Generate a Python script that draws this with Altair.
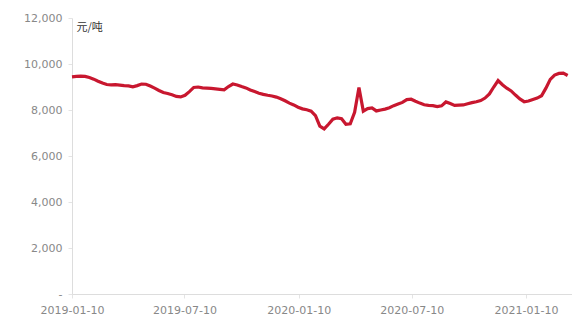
import altair as alt
import pandas as pd

start_date = "2019-01-10"
prices = [
    9440, 9460, 9470, 9460, 9410, 9340, 9250, 9170, 9110, 9090,
    9100, 9080, 9060, 9050, 9010, 9060, 9130, 9120, 9040, 8950,
    8850, 8760, 8720, 8660, 8590, 8570, 8640, 8800, 8980, 9000,
    8960, 8950, 8940, 8920, 8900, 8880, 9020, 9130, 9090, 9020,
    8960, 8870, 8800, 8730, 8680, 8640, 8610, 8560, 8490, 8400,
    8300, 8220, 8120, 8050, 8010, 7950, 7750, 7300, 7180, 7380,
    7600, 7660, 7620, 7380, 7400, 7900, 8980, 7950, 8060, 8090,
    7960, 8000, 8040, 8100, 8190, 8260, 8330, 8450, 8470, 8380,
    8300, 8230, 8200, 8190, 8150, 8180, 8350, 8280, 8200, 8210,
    8220, 8270, 8320, 8360, 8410, 8520, 8700, 9000, 9280, 9100,
    8950, 8830, 8650, 8480, 8360, 8390, 8460, 8520, 8620, 8950,
    9330, 9520, 9590, 9600, 9500,
]
x_ticks = ["2019-01-10", "2019-07-10", "2020-01-10", "2020-07-10", "2021-01-10"]
y_ticks = [0, 2000, 4000, 6000, 8000, 10000, 12000]

dates = pd.date_range(start_date, periods=len(prices), freq="7D")
df = pd.DataFrame({"date": dates, "price": prices})

x_vals = [alt.DateTime(year=int(d[:4]), month=int(d[5:7]), date=int(d[8:])) for d in x_ticks]

chart = alt.Chart(df).mark_line(color="#c8172f", strokeWidth=3.2, interpolate="linear").encode(
    x=alt.X("date:T",
            scale=alt.Scale(domain=[alt.DateTime(year=2019, month=1, date=10),
                                    alt.DateTime(year=2021, month=3, date=25)], nice=False),
            axis=alt.Axis(values=x_vals, format="%Y-%m-%d", title=None, grid=False,
                          domainColor="#dddddd", tickColor="#e4e4e4", tickSize=4,
                          labelColor="#888888", labelFont="DejaVu Sans", labelFontSize=11,
                          labelPadding=6, labelFlush=False, labelOverlap=False)),
    y=alt.Y("price:Q",
            scale=alt.Scale(domain=[0, 12000], nice=False),
            axis=alt.Axis(values=y_ticks, title="元/吨", titleAngle=0, titleX=4, titleY=9,
                          titleAlign="left", titleBaseline="middle", titleFontWeight="normal",
                          titleFont="Noto Sans CJK SC", titleFontSize=11, titleColor="#333333",
                          labelExpr="datum.value == 0 ? '-' : format(datum.value, ',')",
                          grid=False, domainColor="#dddddd", tickColor="#e4e4e4", tickSize=4,
                          labelColor="#888888", labelFont="DejaVu Sans", labelFontSize=11,
                          labelPadding=6)),
).properties(
    width=500, height=276,
    autosize=alt.AutoSizeParams(type="none"),
    padding={"left": 72, "top": 18, "right": 0, "bottom": 26},
).configure_view(stroke=None)

chart.save("out.html", embed_options={"renderer": "svg", "actions": False})
